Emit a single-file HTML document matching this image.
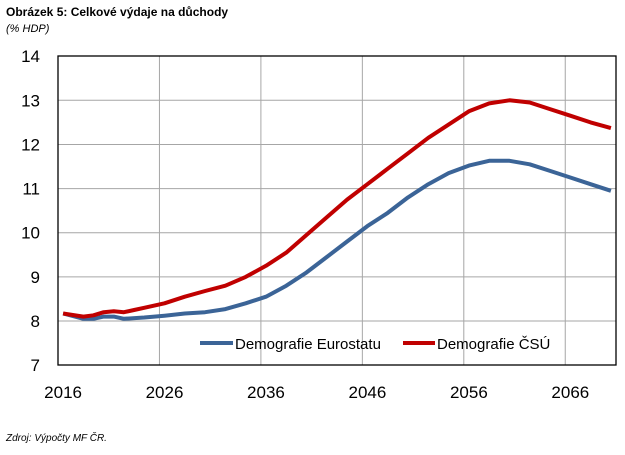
<!DOCTYPE html>
<html><head><meta charset="utf-8"><style>
body{margin:0;background:#fff;width:625px;height:450px;overflow:hidden;font-family:"Liberation Sans",sans-serif}
</style></head><body>
<svg width="625" height="450" xmlns="http://www.w3.org/2000/svg" font-family="Liberation Sans, sans-serif">
<text x="6" y="16" font-size="12" font-weight="bold">Obrázek 5: Celkové výdaje na důchody</text>
<text x="6" y="32" font-size="11" font-style="italic">(% HDP)</text>
<g id="grid" stroke="#a6a6a6" stroke-width="1"></g>
<rect x="58" y="56" width="558" height="309" fill="none" stroke="#000" stroke-width="1.3"/>
<g id="lab" font-size="17" fill="#000"></g>
<polyline id="blue" fill="none" stroke="#3b6497" stroke-width="4" stroke-linejoin="round"/>
<polyline id="red" fill="none" stroke="#c00000" stroke-width="4" stroke-linejoin="round"/>
<line x1="200" y1="343" x2="233" y2="343" stroke="#3b6497" stroke-width="4"/>
<text x="235" y="349" font-size="15">Demografie Eurostatu</text>
<line x1="403" y1="343" x2="435" y2="343" stroke="#c00000" stroke-width="4"/>
<text x="437" y="349" font-size="15">Demografie ČSÚ</text>
<text x="6" y="441" font-size="10" font-style="italic">Zdroj: Výpočty MF ČR.</text>
</svg>
<script>
var NS="http://www.w3.org/2000/svg";
function Y(v){return 321-(v-8)*44.14;}
function X(yr){return 58+(yr-2016+0.5)*10.145;}
var g=document.getElementById('grid'),l=document.getElementById('lab');
for(var v=8;v<=13;v++){var e=document.createElementNS(NS,'line');e.setAttribute('x1',58);e.setAttribute('x2',616);e.setAttribute('y1',Y(v));e.setAttribute('y2',Y(v));g.appendChild(e);}
for(var k=1;k<=5;k++){var x=58+k*10*10.145;var e=document.createElementNS(NS,'line');e.setAttribute('x1',x);e.setAttribute('x2',x);e.setAttribute('y1',56);e.setAttribute('y2',365);g.appendChild(e);}
for(var v=7;v<=14;v++){var t=document.createElementNS(NS,'text');t.setAttribute('x',40);t.setAttribute('y',Y(v)+6);t.setAttribute('text-anchor','end');t.textContent=v;l.appendChild(t);}
for(var yr=2016;yr<=2066;yr+=10){var t=document.createElementNS(NS,'text');t.setAttribute('x',X(yr));t.setAttribute('y',398);t.setAttribute('text-anchor','middle');t.textContent=yr;l.appendChild(t);}
var red=[[2016,8.17],[2018,8.1],[2019,8.13],[2020,8.2],[2021,8.22],[2022,8.2],[2023,8.25],[2024,8.3],[2026,8.4],[2028,8.55],[2030,8.68],[2032,8.8],[2034,9.0],[2036,9.25],[2038,9.55],[2040,9.95],[2042,10.35],[2044,10.75],[2046,11.1],[2048,11.45],[2050,11.8],[2052,12.15],[2054,12.45],[2056,12.75],[2058,12.93],[2060,13.0],[2062,12.95],[2064,12.8],[2066,12.65],[2068,12.5],[2070,12.37]];
var blue=[[2016,8.17],[2018,8.05],[2019,8.05],[2020,8.1],[2021,8.1],[2022,8.05],[2024,8.08],[2026,8.12],[2028,8.17],[2030,8.2],[2032,8.27],[2034,8.4],[2036,8.55],[2038,8.8],[2040,9.1],[2042,9.45],[2044,9.8],[2046,10.15],[2048,10.45],[2050,10.8],[2052,11.1],[2054,11.35],[2056,11.52],[2058,11.63],[2060,11.63],[2062,11.55],[2064,11.4],[2066,11.25],[2068,11.1],[2070,10.95]];
function pts(a){return a.map(function(p){return X(p[0]).toFixed(1)+','+Y(p[1]).toFixed(1)}).join(' ');}
document.getElementById('red').setAttribute('points',pts(red));
document.getElementById('blue').setAttribute('points',pts(blue));
</script>
</body></html>
